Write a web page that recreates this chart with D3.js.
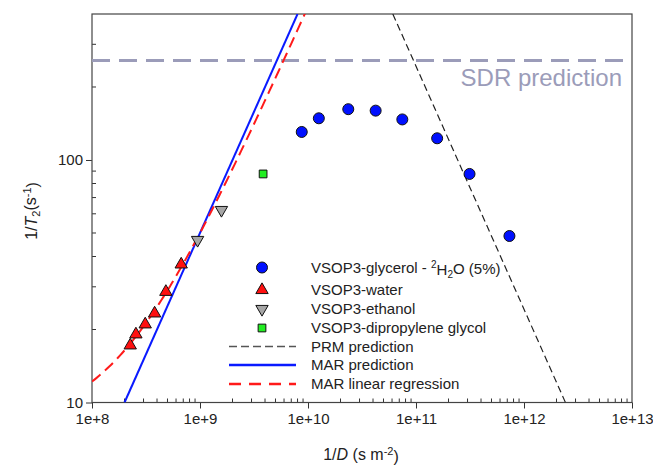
<!DOCTYPE html>
<html>
<head>
<script src="https://cdn.jsdelivr.net/npm/d3@7"></script>
<style>
  body { margin: 0; background: #fff; }
  svg { display: block; font-family: "Liberation Sans", Arial, sans-serif; }
</style>
</head>
<body>
<div id="chart"></div>
<script>
// data
var glycerolX = [8.75e9, 1.26e10, 2.36e10, 4.23e10, 7.47e10, 1.57e11, 3.13e11, 7.33e11];
var glycerolY = [130.5, 148.6, 162, 159.8, 147, 122.9, 87.6, 48.6];
var waterX = [2.26e8, 2.55e8, 3.11e8, 3.8e8, 4.83e8, 6.7e8];
var waterY = [17.2, 19.1, 21.0, 23.3, 28.6, 37.1];
var ethanolX = [9.5e8, 1.58e9];
var ethanolY = [46.8, 62.2];
var dpgX = [3.84e9];
var dpgY = [87.6];

// model lines
var marPredX = [2.0e8, 8.0e9];      // straight on log-log
var marPredY = [10, 400];
var prmX = [6.1e10, 2.42e12];
var prmY = [400, 10];
var marFit = [8.0, 4.2e-8];         // intercept, slope (linear)
var sdrLevel = 257;

var xTicks = [1e8, 1e9, 1e10, 1e11, 1e12, 1e13];
var xTickLabels = ["1e+8", "1e+9", "1e+10", "1e+11", "1e+12", "1e+13"];
var yTicks = [10, 100];
var yTickLabels = ["10", "100"];

var W = 653, H = 466;
var margin = {top: 14, right: 21, bottom: 63.5, left: 92};
var width = W - margin.left - margin.right,
    height = H - margin.top - margin.bottom;

var x = d3.scaleLog().domain([1e8, 1e13]).range([0, width]);
var y = d3.scaleLog().domain([10, 400]).range([height, 0]);

var svg = d3.select("#chart").append("svg")
    .attr("width", W).attr("height", H)
  .append("g")
    .attr("transform", "translate(" + margin.left + "," + margin.top + ")");

svg.append("clipPath").attr("id", "clip")
  .append("rect").attr("width", width).attr("height", height);

// minor ticks (inside)
var xMinor = [];
for (var e = 8; e < 13; e++) for (var m = 2; m <= 9; m++) xMinor.push(m * Math.pow(10, e));
var yMinor = [20, 30, 40, 50, 60, 70, 80, 90, 200, 300];

svg.append("g").selectAll("line").data(xMinor).enter().append("line")
    .attr("x1", function(d) { return x(d); }).attr("x2", function(d) { return x(d); })
    .attr("y1", height).attr("y2", height - 4)
    .attr("stroke", "#333").attr("stroke-width", 1);
svg.append("g").selectAll("line").data(yMinor).enter().append("line")
    .attr("y1", function(d) { return y(d); }).attr("y2", function(d) { return y(d); })
    .attr("x1", 0).attr("x2", 4)
    .attr("stroke", "#333").attr("stroke-width", 1);

// axes
var xAxis = svg.append("g")
    .attr("transform", "translate(0," + height + ")")
    .call(d3.axisBottom(x).tickValues(xTicks).tickSize(6).tickPadding(5)
      .tickFormat(function(d, i) { return xTickLabels[i]; }));
var yAxis = svg.append("g")
    .call(d3.axisLeft(y).tickValues(yTicks).tickSize(6).tickPadding(3)
      .tickFormat(function(d, i) { return yTickLabels[i]; }));
[xAxis, yAxis].forEach(function(a) {
  a.select(".domain").remove();
  a.selectAll("line").attr("stroke", "#333");
  a.selectAll("text").attr("fill", "#222").style("font-size", "15px")
    .style("font-family", "'Liberation Sans', Arial, sans-serif");
});

// frame
svg.append("rect").attr("width", width).attr("height", height)
    .attr("fill", "none").attr("stroke", "#444").attr("stroke-width", 1.2);

var plot = svg.append("g").attr("clip-path", "url(#clip)");

// SDR line
plot.append("line")
    .attr("x1", 0).attr("x2", width)
    .attr("y1", y(sdrLevel)).attr("y2", y(sdrLevel))
    .attr("stroke", "#9b9cb9").attr("stroke-width", 3)
    .attr("stroke-dasharray", "18,9");

svg.append("text")
    .attr("x", width - 10).attr("y", y(sdrLevel) + 25)
    .attr("text-anchor", "end")
    .attr("fill", "#9b9cb9")
    .style("font-size", "24px")
    .text("SDR prediction");

var line = d3.line().x(function(d) { return x(d[0]); }).y(function(d) { return y(d[1]); });

// PRM prediction
plot.append("path")
    .datum(d3.zip(prmX, prmY))
    .attr("d", line).attr("fill", "none")
    .attr("stroke", "#222").attr("stroke-width", 1.2)
    .attr("stroke-dasharray", "7,4");

// MAR prediction
plot.append("path")
    .datum(d3.zip(marPredX, marPredY))
    .attr("d", line).attr("fill", "none")
    .attr("stroke", "#0a1aff").attr("stroke-width", 2);

// MAR linear regression
var fitXs = d3.range(8, 10.05, 0.02).map(function(p) { return Math.pow(10, p); });
plot.append("path")
    .datum(fitXs.map(function(v) { return [v, marFit[0] + marFit[1] * v]; }))
    .attr("d", line).attr("fill", "none")
    .attr("stroke", "#ff1a1a").attr("stroke-width", 2)
    .attr("stroke-dasharray", "11,6");

// markers
function drawPoints(xs, ys, type, size, fill, rot) {
  plot.append("g").selectAll("path").data(d3.zip(xs, ys)).enter().append("path")
      .attr("transform", function(d) {
        return "translate(" + x(d[0]) + "," + y(d[1]) + ")" + (rot ? " rotate(180)" : "");
      })
      .attr("d", d3.symbol().type(type).size(size))
      .attr("fill", fill).attr("stroke", "#111").attr("stroke-width", 1);
}
drawPoints(waterX, waterY, d3.symbolTriangle, 66, "#ff1010", false);
drawPoints(ethanolX, ethanolY, d3.symbolTriangle, 66, "#a6a6a6", true);
drawPoints(dpgX, dpgY, d3.symbolSquare, 60, "#22ee22", false);
drawPoints(glycerolX, glycerolY, d3.symbolCircle, 95, "#0010ff", false);

// legend
var legend = svg.append("g")
    .style("font-size", "15px").attr("fill", "#222");
var lgSym = 262 - margin.left, lgText = 311 - margin.left;
var lgRows = [
  {y: 267.5, type: d3.symbolCircle, size: 95, fill: "#0010ff"},
  {y: 290, type: d3.symbolTriangle, size: 66, fill: "#ff1010"},
  {y: 309, type: d3.symbolTriangle, size: 66, fill: "#a6a6a6", rot: true},
  {y: 328, type: d3.symbolSquare, size: 60, fill: "#22ee22"}
];
lgRows.forEach(function(r) {
  legend.append("path")
      .attr("transform", "translate(" + lgSym + "," + (r.y - margin.top) + ")" + (r.rot ? " rotate(180)" : ""))
      .attr("d", d3.symbol().type(r.type).size(r.size))
      .attr("fill", r.fill).attr("stroke", "#111");
});
var lgLines = [
  {y: 346.5, color: "#555", w: 1.5, dash: "8,4"},
  {y: 365, color: "#0a1aff", w: 2.5, dash: null},
  {y: 384, color: "#ff1a1a", w: 2.5, dash: "12,8"}
];
lgLines.forEach(function(r) {
  legend.append("line")
      .attr("x1", 229 - margin.left).attr("x2", 296 - margin.left)
      .attr("y1", r.y - margin.top).attr("y2", r.y - margin.top)
      .attr("stroke", r.color).attr("stroke-width", r.w)
      .attr("stroke-dasharray", r.dash);
});
var lgLabels = ["VSOP3-water", "VSOP3-ethanol", "VSOP3-dipropylene glycol",
  "PRM prediction", "MAR prediction", "MAR linear regression"];
var lgLabelY = [290, 309, 328, 346.5, 365, 384];
lgLabels.forEach(function(t, i) {
  legend.append("text").attr("x", lgText).attr("y", lgLabelY[i] - margin.top)
      .attr("dy", "0.36em").text(t);
});
var g1 = legend.append("text").attr("x", lgText).attr("y", 267.5 - margin.top).attr("dy", "0.36em");
g1.append("tspan").text("VSOP3-glycerol - ");
g1.append("tspan").attr("dy", "-0.45em").style("font-size", "10px").text("2");
g1.append("tspan").attr("dy", "0.45em").text("H");
g1.append("tspan").attr("dy", "0.3em").style("font-size", "10px").text("2");
g1.append("tspan").attr("dy", "-0.3em").text("O (5%)");

// axis titles
var xt = svg.append("text")
    .attr("x", 361 - margin.left).attr("y", 460 - margin.top)
    .attr("text-anchor", "middle").attr("fill", "#222")
    .style("font-size", "16px");
xt.append("tspan").text("1/");
xt.append("tspan").style("font-style", "italic").text("D");
xt.append("tspan").text(" (s m");
xt.append("tspan").attr("dy", "-0.45em").style("font-size", "11px").text("-2");
xt.append("tspan").attr("dy", "0.45em").text(")");

var yt = svg.append("text")
    .attr("transform", "translate(" + (37 - margin.left) + "," + (211 - margin.top) + ") rotate(-90)")
    .attr("text-anchor", "middle").attr("fill", "#222")
    .style("font-size", "16px");
yt.append("tspan").text("1/");
yt.append("tspan").style("font-style", "italic").text("T");
yt.append("tspan").attr("dy", "0.3em").style("font-size", "11px").text("2");
yt.append("tspan").attr("dy", "-0.3em").text("(s");
yt.append("tspan").attr("dy", "-0.45em").style("font-size", "11px").text("-1");
yt.append("tspan").attr("dy", "0.45em").text(")");
</script>
</body>
</html>
